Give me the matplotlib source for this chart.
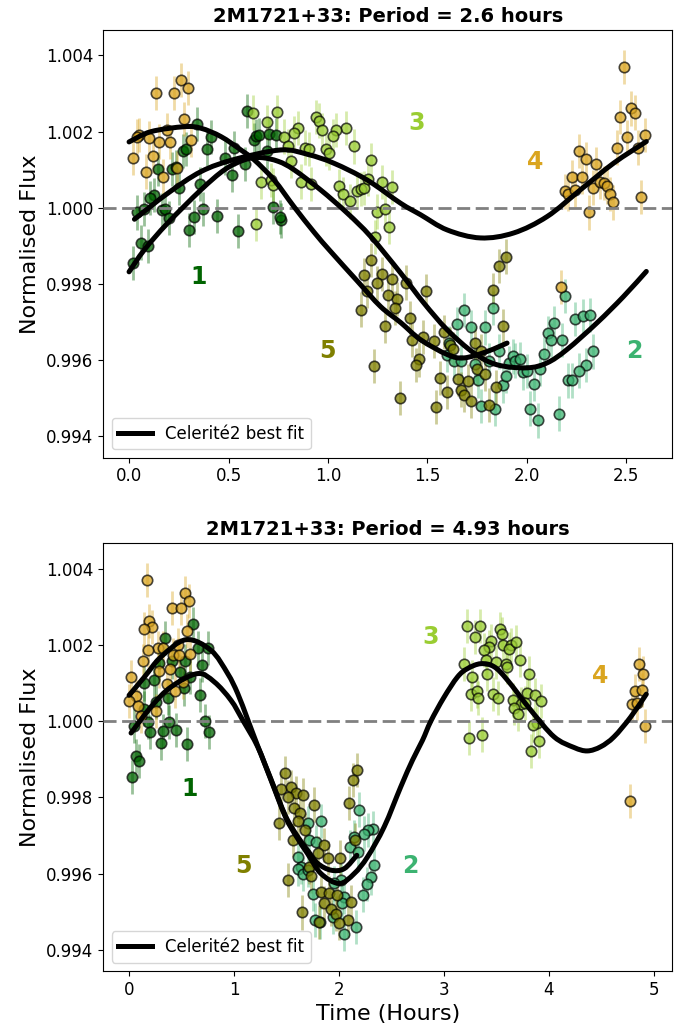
import matplotlib
matplotlib.use("Agg")
import matplotlib.pyplot as plt
from matplotlib.colors import to_rgba
from matplotlib.path import Path
from matplotlib.patches import PathPatch


COLOURS = {1: "#006400", 2: "#3CB371", 3: "#9ACD32", 4: "#DAA520", 5: "#808000"}
FLUX_ERR = 0.00045

# ---- folded at 2.6 h ----
t1_p26 = [0.595, 0.341, 0.411, 0.391, 0.269, 0.286, 0.529, 0.482, 0.584, 0.626, 0.637, 0.654, 0.704,
          0.741, 0.691, 0.147, 0.216, 0.236, 0.517, 0.356, 0.253, 0.127, 0.107, 0.040, 0.077, 0.166,
          0.182, 0.199, 0.325, 0.373, 0.442, 0.303, 0.550, 0.724, 0.763, 0.758, 0.060, 0.097, 0.022]
f1_p26 = [1.00255, 1.00220, 1.00185, 1.00155, 1.00150, 1.00155, 1.00156, 1.00132, 1.00115, 1.00178,
          1.00189, 1.00191, 1.00194, 1.00191, 1.00148, 1.00101, 1.00101, 1.00108, 1.00087, 1.00063,
          1.00053, 1.00034, 1.00025, 0.99988, 0.99997, 0.99995, 0.99997, 0.99973, 0.99976, 0.99997,
          0.99979, 0.99942, 0.99940, 1.00002, 0.99967, 0.99976, 0.99909, 0.99899, 0.99855]

t2_p26 = [1.686, 1.649, 1.719, 1.788, 1.828, 1.607, 1.599, 1.632, 1.666, 1.738, 1.808, 1.862, 1.755,
          1.771, 1.841, 1.878, 1.897, 1.908, 1.930, 1.942, 1.963, 1.980, 2.001, 2.034, 2.017, 2.054,
          2.159, 2.067, 2.087, 2.104, 2.137, 2.122, 2.176, 2.193, 2.243, 2.280, 2.315, 2.330, 2.297,
          2.263, 2.206, 2.226]
f2_p26 = [0.99731, 0.99695, 0.99686, 0.99686, 0.99737, 0.99645, 0.99615, 0.99599, 0.99599, 0.99590,
          0.99599, 0.99623, 0.99547, 0.99479, 0.99473, 0.99534, 0.99558, 0.99593, 0.99610, 0.99599,
          0.99602, 0.99568, 0.99571, 0.99538, 0.99473, 0.99442, 0.99460, 0.99577, 0.99617, 0.99672,
          0.99698, 0.99654, 0.99654, 0.99769, 0.99708, 0.99717, 0.99719, 0.99623, 0.99588, 0.99573,
          0.99547, 0.99547]

t3_p26 = [0.621, 0.746, 0.691, 0.938, 0.955, 0.968, 1.092, 1.039, 1.025, 0.850, 0.830, 0.779, 0.799,
          0.883, 0.905, 0.988, 1.005, 1.131, 0.813, 1.214, 0.662, 0.712, 0.724, 0.863, 0.913, 1.055,
          1.075, 1.111, 1.144, 1.164, 1.181, 1.203, 1.248, 1.234, 0.637, 1.273, 1.320, 1.285, 1.306]
f3_p26 = [1.00250, 1.00251, 1.00224, 1.00239, 1.00229, 1.00204, 1.00210, 1.00204, 1.00189, 1.00210,
          1.00196, 1.00187, 1.00161, 1.00158, 1.00155, 1.00154, 1.00145, 1.00161, 1.00124, 1.00126,
          1.00069, 1.00073, 1.00060, 1.00069, 1.00063, 1.00056, 1.00037, 1.00017, 1.00043, 1.00049,
          1.00052, 1.00075, 0.99990, 0.99923, 0.99958, 1.00067, 1.00054, 0.99997, 0.99949]

t4_p26 = [0.135, 0.224, 0.261, 0.294, 0.278, 0.052, 0.102, 0.040, 0.152, 0.207, 0.311, 0.189, 0.018,
          0.119, 0.085, 0.169, 0.241, 2.490, 2.469, 2.522, 2.541, 2.504, 2.594, 2.454, 2.557, 2.263,
          2.298, 2.348, 2.226, 2.278, 2.193, 2.206, 2.240, 2.332, 2.368, 2.385, 2.402, 2.418, 2.435,
          2.313, 2.574, 2.173]
f4_p26 = [1.00301, 1.00301, 1.00336, 1.00315, 1.00234, 1.00191, 1.00183, 1.00187, 1.00174, 1.00172,
          1.00178, 1.00204, 1.00130, 1.00136, 1.00095, 1.00082, 1.00104, 1.00370, 1.00239, 1.00261,
          1.00250, 1.00185, 1.00191, 1.00158, 1.00158, 1.00150, 1.00128, 1.00115, 1.00080, 1.00082,
          1.00043, 1.00037, 1.00047, 1.00053, 1.00069, 1.00065, 1.00056, 1.00037, 1.00014, 0.99988,
          1.00028, 0.99792]

t5_p26 = [1.214, 1.181, 1.269, 1.248, 1.320, 1.198, 1.301, 1.348, 1.335, 1.164, 1.285, 1.231, 1.360,
          1.897, 1.862, 1.828, 1.878, 1.495, 1.390, 1.410, 1.420, 1.479, 1.532, 1.582, 1.612, 1.629,
          1.741, 1.770, 1.457, 1.443, 1.565, 1.652, 1.703, 1.750, 1.791, 1.666, 1.683, 1.719, 1.599,
          1.545, 1.808, 1.845]
f5_p26 = [0.99864, 0.99824, 0.99826, 0.99803, 0.99813, 0.99782, 0.99772, 0.99761, 0.99737, 0.99733,
          0.99689, 0.99584, 0.99501, 0.99872, 0.99848, 0.99785, 0.99689, 0.99782, 0.99804, 0.99711,
          0.99654, 0.99661, 0.99651, 0.99674, 0.99641, 0.99630, 0.99644, 0.99623, 0.99602, 0.99588,
          0.99554, 0.99551, 0.99545, 0.99577, 0.99565, 0.99523, 0.99510, 0.99494, 0.99516, 0.99477,
          0.99482, 0.99529]

# best-fit curves, 2.6 h (knots along each curve)
fit_a_t_p26 = [0.0, 0.110, 0.278, 0.361, 0.462, 0.562, 0.629, 0.729, 0.829, 0.930, 1.014, 1.147,
               1.264, 1.365, 1.465, 1.599, 1.683, 1.800, 1.900]
fit_a_f_p26 = [1.00173, 1.00200, 1.00213, 1.00209, 1.00187, 1.00152, 1.00126, 1.00073, 1.00003,
               0.99936, 0.99885, 0.99808, 0.99741, 0.99699, 0.99654, 0.99615, 0.99606, 0.99623, 0.99645]
fit_b_t_p26 = [0.027, 0.194, 0.361, 0.529, 0.763, 0.900, 1.030, 1.197, 1.365, 1.465, 1.599, 1.766,
               1.933, 2.101, 2.268, 2.435, 2.600]
fit_b_f_p26 = [0.99970, 1.00038, 1.00095, 1.00127, 1.00152, 1.00140, 1.00117, 1.00073, 1.00012,
               0.99982, 0.99942, 0.99921, 0.99934, 0.99977, 1.00047, 1.00117, 1.00174]
fit_c_t_p26 = [0.0, 0.077, 0.194, 0.361, 0.480, 0.580, 0.660, 0.750, 0.829, 0.963, 1.097, 1.214,
               1.365, 1.482, 1.599, 1.733, 1.850, 2.000, 2.101, 2.201, 2.352, 2.485, 2.600]
fit_c_f_p26 = [0.99832, 0.99890, 0.99960, 1.00047, 1.00100, 1.00126, 1.00132, 1.00122, 1.00100,
               1.00047, 0.99986, 0.99925, 0.99829, 0.99750, 0.99680, 0.99619, 0.99588, 0.99580,
               0.99593, 0.99628, 0.99698, 0.99767, 0.99833]

# ---- folded at 4.93 h ----
t1_p493 = [0.606, 0.343, 0.654, 0.749, 0.289, 0.406, 0.537, 0.695, 0.486, 0.584, 0.235, 0.146, 0.521,
           0.368, 0.676, 0.257, 0.140, 0.050, 0.178, 0.203, 0.327, 0.378, 0.448, 0.305, 0.552, 0.727,
           0.759, 0.067, 0.098, 0.029]
f1_p493 = [1.00254, 1.00219, 1.00191, 1.00193, 1.00153, 1.00157, 1.00157, 1.00147, 1.00129, 1.00116,
           1.00108, 1.00099, 1.00086, 1.00062, 1.00068, 1.00051, 1.00033, 0.99987, 0.99998, 0.99972,
           0.99975, 0.99998, 0.99976, 0.99943, 0.99940, 1.00001, 0.99972, 0.99909, 0.99895, 0.99854]

t2_p493 = [2.194, 1.829, 1.702, 2.321, 2.273, 2.241, 1.717, 1.781, 2.146, 2.108, 2.178, 1.606, 1.638,
           1.606, 1.654, 1.702, 2.336, 2.305, 2.264, 2.226, 2.019, 1.956, 1.749, 1.775, 2.051, 2.025,
           2.162, 2.051, 1.946, 1.822]
f2_p493 = [0.99768, 0.99738, 0.99733, 0.99718, 0.99714, 0.99705, 0.99688, 0.99683, 0.99696, 0.99670,
           0.99657, 0.99644, 0.99618, 0.99613, 0.99598, 0.99609, 0.99622, 0.99590, 0.99572, 0.99545,
           0.99583, 0.99574, 0.99546, 0.99478, 0.99539, 0.99522, 0.99459, 0.99441, 0.99486, 0.99473]

t3_p493 = [3.225, 3.343, 3.298, 3.537, 3.559, 3.448, 3.432, 3.384, 3.568, 3.638, 3.622, 3.692, 3.194,
           3.400, 3.495, 3.590, 3.606, 3.727, 3.273, 3.416, 3.810, 3.257, 3.314, 3.330, 3.470, 3.517,
           3.797, 3.867, 3.924, 3.660, 3.740, 3.771, 3.670, 3.711, 3.886, 3.851, 3.241, 3.362, 3.908,
           3.835]
f3_p493 = [1.00249, 1.00249, 1.00221, 1.00241, 1.00228, 1.00210, 1.00195, 1.00186, 1.00201, 1.00200,
           1.00189, 1.00208, 1.00151, 1.00160, 1.00156, 1.00151, 1.00143, 1.00160, 1.00116, 1.00123,
           1.00125, 1.00071, 1.00079, 1.00060, 1.00071, 1.00061, 1.00075, 1.00068, 1.00053, 1.00055,
           1.00045, 1.00048, 1.00035, 1.00018, 0.99996, 0.99990, 0.99956, 0.99965, 0.99948, 0.99922]

t4_p493 = [0.168, 0.537, 0.568, 0.406, 0.495, 0.194, 0.216, 0.140, 0.549, 0.273, 0.178, 0.321, 0.464,
           0.416, 0.479, 0.581, 0.130, 0.289, 0.390, 0.019, 0.359, 0.511, 0.438, 0.067, 0.003, 0.089,
           0.257, 0.114, 4.860, 4.898, 4.819, 4.886, 4.797, 4.844, 4.917, 4.775]
f4_p493 = [1.00370, 1.00337, 1.00315, 1.00298, 1.00298, 1.00263, 1.00248, 1.00241, 1.00236, 1.00193,
           1.00188, 1.00191, 1.00200, 1.00173, 1.00173, 1.00176, 1.00157, 1.00131, 1.00138, 1.00115,
           1.00097, 1.00103, 1.00080, 1.00066, 1.00053, 1.00039, 1.00026, 1.00014, 1.00150, 1.00125,
           1.00079, 1.00081, 1.00045, 1.00048, 0.99987, 0.99791]

t5_p493 = [1.486, 2.171, 2.136, 1.448, 1.543, 1.590, 1.660, 1.511, 2.092, 1.765, 1.575, 1.632, 1.613,
           1.432, 1.676, 1.559, 1.860, 2.152, 1.797, 1.892, 2.010, 1.717, 1.733, 1.511, 1.829, 1.908,
           1.981, 1.860, 1.924, 1.971, 2.114, 1.648, 2.083, 2.003, 1.813]
f5_p493 = [0.99863, 0.99871, 0.99845, 0.99823, 0.99828, 0.99812, 0.99806, 0.99801, 0.99786, 0.99781,
           0.99771, 0.99759, 0.99738, 0.99733, 0.99714, 0.99688, 0.99675, 0.99688, 0.99653, 0.99640,
           0.99642, 0.99618, 0.99593, 0.99583, 0.99552, 0.99548, 0.99543, 0.99522, 0.99508, 0.99495,
           0.99526, 0.99498, 0.99478, 0.99471, 0.99473]

# best-fit curves, 4.93 h (knots along each curve)
fit_a_t_p493 = [0.0, 0.146, 0.305, 0.543, 0.781, 0.940, 1.035, 1.130, 1.226, 1.352, 1.490, 1.600,
                1.702, 1.797, 1.924, 2.051, 2.171]
fit_a_f_p493 = [1.00068, 1.00116, 1.00169, 1.00214, 1.00186, 1.00125, 1.00073, 1.00005, 0.99935,
                0.99848, 0.99752, 0.99700, 0.99661, 0.99627, 0.99609, 0.99613, 0.99648]
fit_b_t_p493 = [0.019, 0.210, 0.400, 0.654, 0.813, 0.971, 1.083, 1.226, 1.352, 1.490, 1.600, 1.702,
                1.829, 2.003, 2.146, 2.273, 2.432, 2.590, 2.702, 2.797, 2.876, 3.000, 3.130, 3.225,
                3.352, 3.479, 3.606, 3.829, 4.051, 4.241, 4.368, 4.495, 4.622, 4.781, 4.930]
fit_b_f_p493 = [0.99969, 1.00038, 1.00090, 1.00125, 1.00103, 1.00055, 1.00003, 0.99933, 0.99846,
                0.99749, 0.99695, 0.99652, 0.99600, 0.99574, 0.99600, 0.99644, 0.99723, 0.99828,
                0.99898, 0.99950, 1.00000, 1.00062, 1.00116, 1.00138, 1.00151, 1.00143, 1.00108,
                1.00029, 0.99959, 0.99931, 0.99922, 0.99933, 0.99959, 1.00011, 1.00071]

# numbered run labels: (x, y) per panel
labels_p26 = {1: (0.35, 0.99819), 2: (2.54, 0.99623), 3: (1.445, 1.00223), 4: (2.04, 1.0012), 5: (0.995, 0.99623)}
labels_p493 = {1: (0.58, 0.99822), 2: (2.676, 0.99619), 3: (2.876, 1.0022), 4: (4.486, 1.00118), 5: (1.086, 0.99619)}


def smooth_path(t, f):
    # Catmull-Rom through the knots, written as cubic Bezier segments
    pts = list(zip(t, f))
    n = len(pts)
    verts = [pts[0]]
    codes = [Path.MOVETO]
    for i in range(n - 1):
        p0 = pts[i - 1] if i > 0 else pts[i]
        p1, p2 = pts[i], pts[i + 1]
        p3 = pts[i + 2] if i + 2 < n else p2
        c1 = (p1[0] + (p2[0] - p0[0]) / 6, p1[1] + (p2[1] - p0[1]) / 6)
        c2 = (p2[0] - (p3[0] - p1[0]) / 6, p2[1] - (p3[1] - p1[1]) / 6)
        verts += [c1, c2, p2]
        codes += [Path.CURVE4] * 3
    return Path(verts, codes)


def plot_run(ax, t, f, colour):
    ax.errorbar(t, f, yerr=FLUX_ERR, fmt='none', ecolor=colour, alpha=0.4, elinewidth=2, zorder=1)
    ax.plot(t, f, 'o', ms=7.5, mfc=to_rgba(colour, 0.75), mec=(0, 0, 0, 0.7), mew=1.2, zorder=2)


def plot_panel(ax, runs, fits, labels, period, xlim):
    for n, (t, f) in runs.items():
        plot_run(ax, t, f, COLOURS[n])

    ax.axhline(1.0, color='grey', ls='--', lw=2, dashes=(4.7, 2), zorder=3)

    for t, f in fits:
        ax.add_patch(PathPatch(smooth_path(t, f), fill=False, ec='black', lw=3.6,
                               capstyle='round', zorder=4))
    ax.plot([], [], color='black', lw=3.6, label='Celerité2 best fit')

    for n, (x, y) in labels.items():
        ax.text(x, y, str(n), color=COLOURS[n], fontsize=17, fontweight='bold', ha='center', va='center')

    ax.set_title('2M1721+33: Period = {} hours'.format(period), fontsize=14, fontweight='bold')
    ax.set_ylabel('Normalised Flux', fontsize=16)
    ax.set_xlim(xlim)
    ax.set_ylim(0.99344, 1.00467)
    ax.ticklabel_format(axis='y', useOffset=False)
    ax.tick_params(labelsize=12)
    ax.legend(loc='lower left', fontsize=12)


def main():
    fig, (ax1, ax2) = plt.subplots(2, 1, figsize=(6.88, 10.32), dpi=100)
    fig.subplots_adjust(left=0.15, right=0.977, top=0.971, bottom=0.059, hspace=0.2)

    runs_p26 = {1: (t1_p26, f1_p26), 2: (t2_p26, f2_p26), 3: (t3_p26, f3_p26),
                4: (t4_p26, f4_p26), 5: (t5_p26, f5_p26)}
    fits_p26 = [(fit_a_t_p26, fit_a_f_p26), (fit_b_t_p26, fit_b_f_p26), (fit_c_t_p26, fit_c_f_p26)]
    plot_panel(ax1, runs_p26, fits_p26, labels_p26, '2.6', (-0.13, 2.73))

    runs_p493 = {1: (t1_p493, f1_p493), 2: (t2_p493, f2_p493), 3: (t3_p493, f3_p493),
                 4: (t4_p493, f4_p493), 5: (t5_p493, f5_p493)}
    fits_p493 = [(fit_a_t_p493, fit_a_f_p493), (fit_b_t_p493, fit_b_f_p493)]
    plot_panel(ax2, runs_p493, fits_p493, labels_p493, '4.93', (-0.2465, 5.1765))
    ax2.set_xlabel('Time (Hours)', fontsize=16)

    fig.savefig('out.png', dpi=100)


if __name__ == '__main__':
    main()
